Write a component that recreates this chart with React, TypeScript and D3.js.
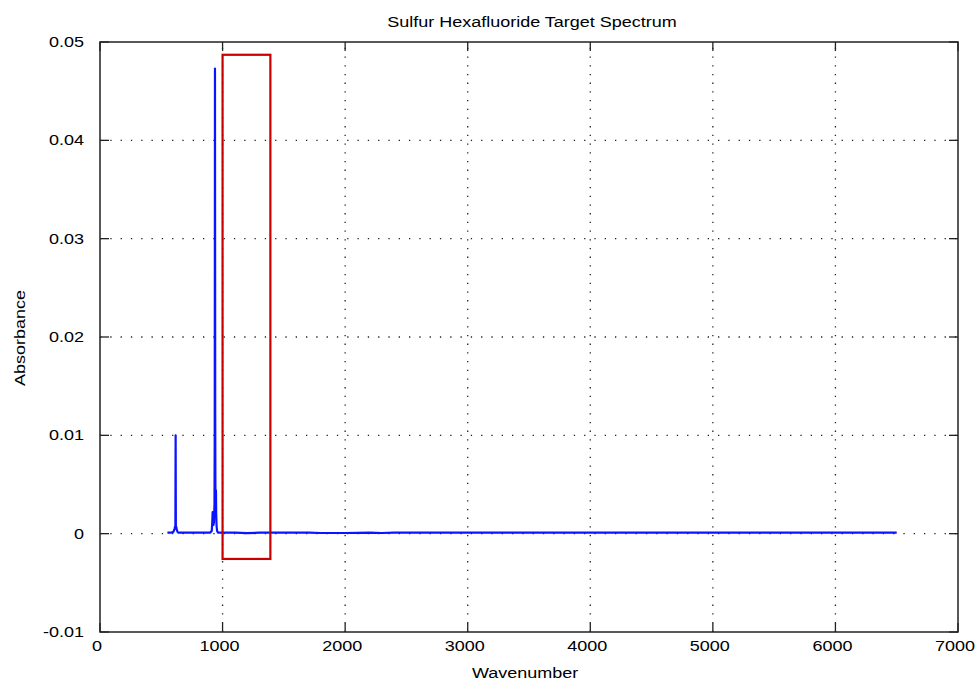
import React from "react";
import * as d3 from "d3";

const xTicks = [0, 1000, 2000, 3000, 4000, 5000, 6000, 7000];
const yTicks = [-0.01, 0, 0.01, 0.02, 0.03, 0.04, 0.05];
const yTickLabels = ["-0.01", "0", "0.01", "0.02", "0.03", "0.04", "0.05"];

const wavenumber = [
  550, 580, 600, 608, 612, 615, 617, 619, 622, 626, 632, 640, 660, 700, 760, 800, 850, 900,
  912, 916, 919, 922, 926, 930, 934, 936, 938, 940, 942, 944, 946, 948, 951, 955, 962, 980,
  1000, 1100, 1200, 1300, 1400, 1500, 1600, 1700, 1800, 2000, 2200, 2300, 2400, 2600, 3000,
  3500, 4000, 4500, 5000, 5500, 6000, 6500,
];
const absorbance = [
  0.0001, 0.0001, 0.0002, 0.0005, 0.0007, 0.0006, 0.0100, 0.0005, 0.0007, 0.0004, 0.0002,
  0.0001, 0.0001, 0.0001, 0.0001, 0.0001, 0.0001, 0.0001,
  0.0003, 0.0012, 0.0022, 0.0015, 0.0009, 0.0012, 0.0030, 0.0100, 0.0473, 0.0120, 0.0025,
  0.0035, 0.0044, 0.0020, 0.0008, 0.0003, 0.0001, 0.0001,
  0.0001, 0.0001, 0.00005, 0.0001, 0.0001, 0.0001, 0.0001, 0.0001, 0.00007, 0.00007, 0.0001,
  0.00007, 0.0001, 0.0001, 0.0001, 0.0001, 0.0001, 0.0001, 0.0001, 0.0001, 0.0001, 0.0001,
];

const boxRange = [1000, 1390];
const boxAbs = [-0.00257, 0.0487];

const W = 979;
const H = 682;
const L = 100, R = 958, T = 42, B = 632;
const font = "'Liberation Sans', Arial, Helvetica, sans-serif";
const FS = 15;
const SX = 1.2;

function T2(props: { x: number; y: number; anchor: string; children: React.ReactNode; rotate?: boolean }) {
  const tr = props.rotate
    ? `translate(${props.x},${props.y}) rotate(-90) scale(${SX},1)`
    : `translate(${props.x},${props.y}) scale(${SX},1)`;
  return (
    <text transform={tr} textAnchor={props.anchor} fontFamily={font} fontSize={FS} fill="#000">
      {props.children}
    </text>
  );
}

export default function App() {
  const x = d3.scaleLinear().domain([0, 7000]).range([L, R]);
  const y = d3.scaleLinear().domain([-0.01, 0.05]).range([B, T]);
  const line = d3
    .line<number>()
    .x((_, i) => x(wavenumber[i]))
    .y((d) => y(d));
  const tk = 9;
  return (
    <svg width={W} height={H} style={{ position: "absolute", left: 0, top: 0, background: "#fff" }}>
      <rect x={0} y={0} width={W} height={H} fill="#fff" />
      {xTicks.slice(1, -1).map((t) => (
        <line key={"gx" + t} x1={x(t)} x2={x(t)} y1={B} y2={T} stroke="#222" strokeWidth={1.3} strokeDasharray="1.3,7.4" />
      ))}
      {yTicks.slice(1, -1).map((t) => (
        <line key={"gy" + t} x1={L} x2={R} y1={y(t)} y2={y(t)} stroke="#222" strokeWidth={1.3} strokeDasharray="1.3,9" />
      ))}
      <path d={line(absorbance) || ""} fill="none" stroke="#0a14ff" strokeWidth={2.2} strokeLinejoin="round" />
      <rect
        x={x(boxRange[0])}
        y={y(boxAbs[1])}
        width={x(boxRange[1]) - x(boxRange[0])}
        height={y(boxAbs[0]) - y(boxAbs[1])}
        fill="none"
        stroke="#c80000"
        strokeWidth={2.2}
      />
      {xTicks.map((t) => (
        <g key={"tx" + t}>
          <line x1={x(t)} x2={x(t)} y1={B} y2={B - tk} stroke="#222" strokeWidth={1.3} />
          <line x1={x(t)} x2={x(t)} y1={T} y2={T + tk} stroke="#222" strokeWidth={1.3} />
          <T2 x={x(t) - 3} y={651} anchor="middle">
            {t}
          </T2>
        </g>
      ))}
      {yTicks.map((t, i) => (
        <g key={"ty" + t}>
          <line x1={L} x2={L + tk} y1={y(t)} y2={y(t)} stroke="#222" strokeWidth={1.3} />
          <line x1={R} x2={R - tk} y1={y(t)} y2={y(t)} stroke="#222" strokeWidth={1.3} />
          <T2 x={84} y={y(t) + 5} anchor="end">
            {yTickLabels[i]}
          </T2>
        </g>
      ))}
      <rect x={L} y={T} width={R - L} height={B - T} fill="none" stroke="#222" strokeWidth={1.5} />
      <T2 x={532} y={27} anchor="middle">
        Sulfur Hexafluoride Target Spectrum
      </T2>
      <T2 x={525} y={678} anchor="middle">
        Wavenumber
      </T2>
      <T2 x={25} y={338} anchor="middle" rotate>
        Absorbance
      </T2>
    </svg>
  );
}
